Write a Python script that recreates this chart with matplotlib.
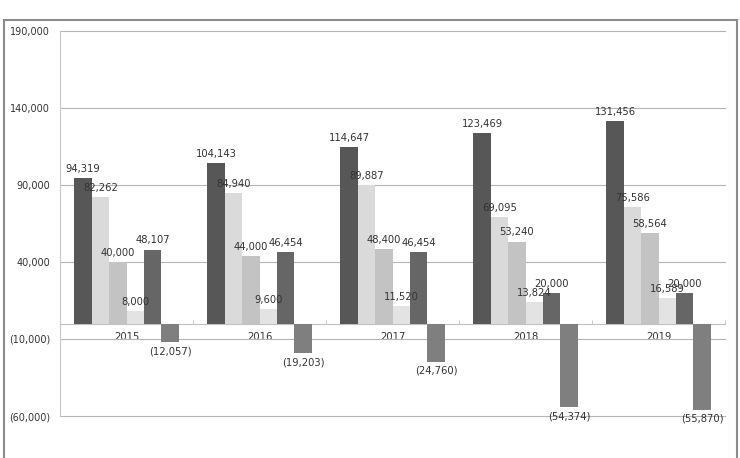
import matplotlib
matplotlib.use("Agg")
import matplotlib.pyplot as plt
from matplotlib.patches import Rectangle
from matplotlib.ticker import FuncFormatter
import numpy as np

years = ["2015", "2016", "2017", "2018", "2019"]
s1 = [94319, 104143, 114647, 123469, 131456]
s2 = [82262, 84940, 89887, 69095, 75586]
s3 = [40000, 44000, 48400, 53240, 58564]
s4 = [8000, 9600, 11520, 13824, 16589]
s5 = [48107, 46454, 46454, 20000, 20000]
s6 = [-12057, -19203, -24760, -54374, -55870]
series = [s1, s2, s3, s4, s5, s6]
colors = ["#575757", "#dadada", "#c3c3c3", "#e3e3e3", "#666666", "#7f7f7f"]
yticks = [-60000, -10000, 40000, 90000, 140000, 190000]


def fmt(v, pos=None):
    if v < 0:
        return "({:,.0f})".format(-v)
    return "{:,.0f}".format(v)


plt.rcParams["font.family"] = "DejaVu Sans"
fig = plt.figure(figsize=(7.4, 4.58), dpi=100)
ax = fig.add_axes([60 / 740, 42 / 458, 665 / 740, 385 / 458])

x = np.arange(len(years))
w = 0.131
for j, (vals, c) in enumerate(zip(series, colors)):
    pos = x + (j - 2.5) * w
    ax.bar(pos, vals, width=w, color=c, zorder=3)
    for px, v in zip(pos, vals):
        if v >= 0:
            ax.annotate(fmt(v), (px, v), xytext=(0, 3), textcoords="offset points",
                        ha="center", va="bottom", fontsize=7.2, color="#333333", zorder=4)
        else:
            ax.annotate(fmt(v), (px, v), xytext=(0, -3), textcoords="offset points",
                        ha="center", va="top", fontsize=7.2, color="#333333", zorder=4)

ax.set_xlim(-0.5, len(years) - 0.5)
ax.set_ylim(-60000, 190000)
ax.set_yticks(yticks)
ax.yaxis.set_major_formatter(FuncFormatter(fmt))
ax.tick_params(axis="y", length=0, pad=7, labelsize=6.9, labelcolor="#333333")
ax.grid(axis="y", color="#b4b4b4", linewidth=0.8, zorder=0)
for gl in ax.yaxis.get_gridlines():
    gl.set_clip_on(False)

ax.set_xticks(x)
ax.set_xticklabels(years)
ax.set_xticks(np.arange(len(years) + 1) - 0.5, minor=True)
ax.tick_params(axis="x", which="major", length=0, pad=6, labelsize=7.2, labelcolor="#333333")
ax.tick_params(axis="x", which="minor", length=3, direction="in", color="#c0c0c0")

ax.spines["bottom"].set_position(("data", 0))
ax.spines["bottom"].set_color("#c0c0c0")
ax.spines["left"].set_color("#c8c8c8")
ax.spines["top"].set_visible(False)
ax.spines["right"].set_visible(False)

fig.add_artist(Rectangle((4 / 740, -0.05), 733 / 740, 0.05 + 438 / 458,
                         transform=fig.transFigure, fill=False,
                         edgecolor="#8c8c8c", linewidth=1.5))

fig.savefig("out.png", dpi=100)
